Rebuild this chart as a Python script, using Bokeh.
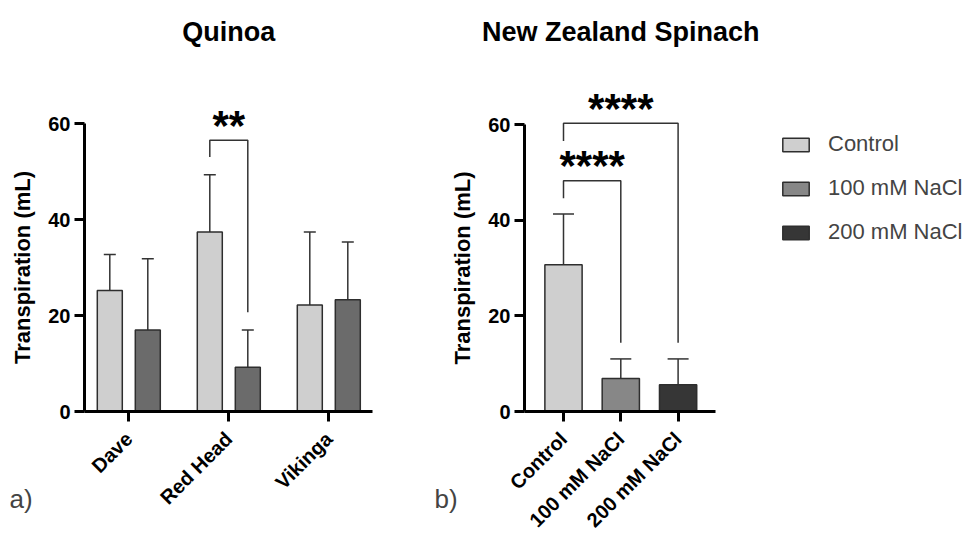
import numpy as np
from bokeh.plotting import figure
from bokeh.layouts import row
from bokeh.core.properties import value
from bokeh.models import (ColumnDataSource, Whisker, TeeHead, FixedTicker, Range1d,
                          Label, Legend, LegendItem)
from bokeh.embed import file_html
from bokeh.resources import INLINE

# ---------------- data ----------------
quinoa_cultivars = ["Dave", "Red Head", "Vikinga"]
quinoa_control_mean = [25.2, 37.4, 22.2]
quinoa_control_upper = [32.7, 49.3, 37.4]
quinoa_control_lower = [17.9, 25.4, 7.2]
quinoa_salt_mean = [17.0, 9.2, 23.3]
quinoa_salt_upper = [31.8, 17.0, 35.3]
quinoa_salt_lower = [2.4, 1.5, 11.6]
# significance bracket (Red Head: control vs 100 mM)
quinoa_sig_group = [1]
quinoa_sig_top = [56.5]
quinoa_sig_left_end = [53.0]
quinoa_sig_right_end = [20.7]
quinoa_sig_text = ["**"]

spinach_treatments = ["Control", "100 mM NaCl", "200 mM NaCl"]
spinach_mean = [30.7, 6.9, 5.6]
spinach_upper = [41.3, 11.0, 11.0]
spinach_lower = [20.1, 3.2, 0.3]
spinach_sig_from = [0, 0]
spinach_sig_to = [2, 1]
spinach_sig_top = [60.3, 48.3]
spinach_sig_left_end = [56.6, 44.6]
spinach_sig_right_end = [14.4, 14.4]
spinach_sig_text = ["****", "****"]

titles = ["Quinoa", "New Zealand Spinach"]
panel_tags = ["a)", "b)"]
y_ticks = [0, 20, 40, 60]

treatment_colors = ["#cfcfcf", "#878787", "#363636"]
quinoa_salt_color = "#6b6b6b"

FONT = "Liberation Sans"
EDGE = "#2e2e2e"
H = 534          # canvas height
Y0_PX = 411      # pixel row of y = 0


def make_fig(width, x_start, px_per_x, px_per_y, axis_px, axis_end_px, labels, title,
             tag, tag_dx):
    y_lo = -(H - Y0_PX) / px_per_y
    y_hi = Y0_PX / px_per_y
    x_end = x_start + width / px_per_x
    p = figure(frame_width=width, frame_height=H, min_border=0,
               x_range=Range1d(x_start, x_end), y_range=Range1d(y_lo, y_hi),
               output_backend="svg", toolbar_location=None)
    p.xgrid.visible = False
    p.ygrid.visible = False
    p.outline_line_color = None
    y_axis_x = x_start + axis_px / px_per_x
    x_axis_end = x_start + axis_end_px / px_per_x
    p.yaxis.fixed_location = y_axis_x
    p.xaxis.fixed_location = 0
    for ax in (p.xaxis[0], p.yaxis[0]):
        ax.axis_line_width = 3
        ax.axis_line_color = "black"
        ax.major_tick_line_width = 3
        ax.major_tick_line_color = "black"
        ax.major_tick_out = 10
        ax.major_tick_in = 0
        ax.minor_tick_line_color = None
        ax.major_label_text_font = FONT
        ax.major_label_text_font_style = "bold"
        ax.major_label_text_color = "black"
        ax.major_label_text_font_size = "20px"
    p.yaxis.ticker = FixedTicker(ticks=y_ticks)
    p.yaxis.bounds = (0, 60)
    p.yaxis.major_label_standoff = 4
    p.yaxis.axis_label = "Transpiration (mL)"
    p.yaxis.axis_label_text_font = FONT
    p.yaxis.axis_label_text_font_style = "bold"
    p.yaxis.axis_label_text_color = "black"
    p.yaxis.axis_label_text_font_size = "22px"
    p.yaxis.axis_label_standoff = 10
    centers = [i + 0.5 for i in range(len(labels))]
    p.xaxis.ticker = FixedTicker(ticks=centers)
    p.xaxis.bounds = (y_axis_x, x_axis_end)
    p.xaxis.major_label_overrides = {c: l for c, l in zip(centers, labels)}
    p.xaxis.major_label_orientation = np.pi / 4
    p.xaxis.major_label_standoff = 14
    p.xaxis.major_label_text_font_size = "20px"
    # title above the chart
    p.text(x=[np.mean(centers)], y=[y_hi], text=[title], text_align="center",
           text_baseline="middle", y_offset=31, text_font=value(FONT),
           text_font_style="bold", text_font_size="27px", text_color="black")
    p.add_layout(Label(x=axis_px + tag_dx, y=H - 498, x_units="screen", y_units="screen",
                       text=tag, text_font=FONT, text_font_size="26px",
                       text_baseline="middle"))
    return p


def add_sig(p, xl, xr, top, le, re, txt):
    p.multi_line(xs=[[a, a, b, b] for a, b in zip(xl, xr)],
                 ys=[[l, t, t, r] for l, t, r in zip(le, top, re)],
                 line_color="#333333", line_width=1.5)
    p.text(x=[(a + b) / 2 for a, b in zip(xl, xr)], y=top, text=txt, text_align="center",
           text_baseline="middle", y_offset=-15, text_font=value(FONT),
           text_font_style="bold", text_font_size="42px", text_color="black")


def add_whisker(p, src, size):
    p.add_layout(Whisker(base="x", upper="upper", lower="lower", source=src,
                         line_color="#333333", line_width=1.5,
                         upper_head=TeeHead(size=size, line_color="#333333", line_width=1.5),
                         lower_head=TeeHead(size=size, line_color="#333333", line_width=1.5)))


# ---------------- Quinoa ----------------
p1 = make_fig(430, 0.5 - 1.283, 100.0, 4.8, 84, 372, quinoa_cultivars, titles[0],
              panel_tags[0], -75)
qc = np.arange(len(quinoa_cultivars)) + 0.5
off = 0.19
src_qc = ColumnDataSource(dict(x=qc - off, top=quinoa_control_mean,
                               upper=quinoa_control_upper, lower=quinoa_control_lower))
src_qs = ColumnDataSource(dict(x=qc + off, top=quinoa_salt_mean,
                               upper=quinoa_salt_upper, lower=quinoa_salt_lower))
p1.vbar(x="x", top="top", width=0.25, source=src_qc, fill_color=treatment_colors[0],
        line_color=EDGE, line_width=1.5)
p1.vbar(x="x", top="top", width=0.25, source=src_qs, fill_color=quinoa_salt_color,
        line_color=EDGE, line_width=1.5)
add_whisker(p1, src_qc, 12)
add_whisker(p1, src_qs, 12)
g = np.array(quinoa_sig_group)
add_sig(p1, qc[g] - off, qc[g] + off, quinoa_sig_top, quinoa_sig_left_end,
        quinoa_sig_right_end, quinoa_sig_text)

# ---------------- New Zealand Spinach ----------------
p2 = make_fig(539, 0.5 - 133 / 57.3, 57.3, 4.78, 94, 285, spinach_treatments, titles[1],
              panel_tags[1], -90)
sc = np.arange(len(spinach_treatments)) + 0.5
src_s = ColumnDataSource(dict(x=sc, top=spinach_mean, upper=spinach_upper,
                              lower=spinach_lower, color=treatment_colors))
r2 = p2.vbar(x="x", top="top", width=0.65, source=src_s, fill_color="color",
             line_color=EDGE, line_width=1.5)
add_whisker(p2, src_s, 21)
add_sig(p2, sc[spinach_sig_from], sc[spinach_sig_to], spinach_sig_top,
        spinach_sig_left_end, spinach_sig_right_end, spinach_sig_text)

legend = Legend(items=[LegendItem(label=lab, renderers=[r2], index=i)
                       for i, lab in enumerate(spinach_treatments)],
                location=(349, 289), glyph_width=33, glyph_height=17,
                label_text_font=FONT, label_text_font_size="22px", label_standoff=16,
                spacing=18, padding=0, margin=0, border_line_color=None,
                background_fill_alpha=0)
p2.add_layout(legend)

layout = row(p1, p2)
open("out.html", "w").write(file_html(layout, INLINE))
